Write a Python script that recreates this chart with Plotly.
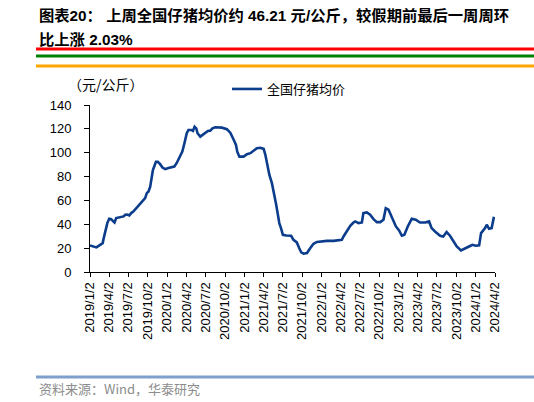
# 全国仔猪均价 weekly line chart (华泰研究 style)
import plotly.graph_objects as go

# ---- data (元/公斤) ----
dates = [
    "2019-01-02", "2019-01-19", "2019-02-01", "2019-02-12", "2019-02-24", "2019-03-03",
    "2019-03-08", "2019-03-15", "2019-03-25", "2019-04-03", "2019-04-12", "2019-04-22",
    "2019-04-28", "2019-05-06", "2019-05-17", "2019-05-30", "2019-06-10", "2019-06-18",
    "2019-06-27", "2019-07-07", "2019-07-16", "2019-07-27", "2019-08-07", "2019-08-20",
    "2019-09-01", "2019-09-12", "2019-09-20", "2019-09-28", "2019-10-06", "2019-10-14",
    "2019-10-19", "2019-10-27", "2019-11-02", "2019-11-10", "2019-11-19", "2019-11-30",
    "2019-12-11", "2019-12-24", "2020-01-08", "2020-01-24", "2020-02-05", "2020-02-16",
    "2020-02-29", "2020-03-14", "2020-03-24", "2020-04-04", "2020-04-12", "2020-04-25",
    "2020-05-03", "2020-05-11", "2020-05-19", "2020-05-25", "2020-06-07", "2020-06-18",
    "2020-07-01", "2020-07-13", "2020-07-24", "2020-08-04", "2020-08-17", "2020-09-01",
    "2020-09-17", "2020-10-11", "2020-10-27", "2020-11-11", "2020-11-23", "2020-11-29",
    "2020-12-09", "2020-12-29", "2021-01-14", "2021-01-30", "2021-02-14", "2021-03-02",
    "2021-03-18", "2021-04-03", "2021-04-11", "2021-04-19", "2021-04-30", "2021-05-12",
    "2021-05-23", "2021-05-31", "2021-06-08", "2021-06-16", "2021-06-24", "2021-07-03",
    "2021-07-19", "2021-08-11", "2021-08-22", "2021-09-07", "2021-09-18", "2021-09-28",
    "2021-10-09", "2021-10-25", "2021-11-10", "2021-11-25", "2021-12-11", "2021-12-31",
    "2022-01-27", "2022-02-28", "2022-03-23", "2022-04-08", "2022-04-16", "2022-05-02",
    "2022-05-18", "2022-06-02", "2022-06-10", "2022-06-26", "2022-07-12", "2022-07-19",
    "2022-08-04", "2022-08-20", "2022-09-05", "2022-09-21", "2022-10-07", "2022-10-22",
    "2022-11-02", "2022-11-15", "2022-12-01", "2022-12-20", "2023-01-04", "2023-01-17",
    "2023-01-29", "2023-02-14", "2023-03-05", "2023-03-24", "2023-04-13", "2023-05-07",
    "2023-05-26", "2023-06-07", "2023-06-23", "2023-07-17", "2023-08-01", "2023-08-17",
    "2023-09-02", "2023-09-18", "2023-10-04", "2023-10-24", "2023-11-12", "2023-12-01",
    "2023-12-17", "2024-01-02", "2024-01-18", "2024-01-27", "2024-02-15", "2024-02-23",
    "2024-03-05", "2024-03-17", "2024-03-28",
]

piglet_price = [
    22.3, 21.4, 20.6, 21.9, 23.7, 24.2,
    28.4, 34.0, 41.0, 44.6, 44.3, 42.4,
    41.5, 45.2, 45.7, 46.0, 46.6, 48.0,
    48.2, 47.4, 49.4, 50.8, 53.0, 56.3,
    58.8, 60.5, 61.9, 66.1, 67.5, 71.6,
    77.2, 85.6, 88.4, 92.3, 92.3, 90.4,
    87.6, 86.2, 87.1, 87.6, 88.4, 91.2,
    95.4, 100.9, 107.9, 116.3, 119.1, 119.1,
    118.3, 121.8, 120.4, 116.3, 113.5, 114.9,
    117.2, 118.3, 118.5, 120.4, 121.3, 121.3,
    121.0, 119.7, 116.8, 111.3, 106.5, 100.9,
    96.7, 96.7, 98.7, 99.6, 101.5, 103.8,
    104.1, 103.2, 98.2, 91.2, 81.4, 74.5,
    66.1, 57.7, 49.4, 41.0, 36.8, 31.2,
    30.6, 30.4, 27.0, 24.8, 20.1, 16.4,
    15.3, 15.9, 20.1, 23.7, 25.2, 25.6,
    26.1, 26.1, 26.4, 27.0, 29.8, 34.8,
    38.7, 41.5, 42.4, 41.0, 41.5, 49.4,
    49.9, 48.0, 44.3, 41.8, 41.8, 43.8,
    53.5, 52.2, 45.2, 38.2, 34.8, 30.4,
    31.2, 38.2, 44.6, 43.8, 41.5, 41.5,
    42.4, 36.8, 34.0, 30.4, 29.8, 33.5,
    30.4, 25.6, 21.4, 18.1, 20.1, 21.4,
    22.8, 22.0, 22.3, 32.6, 36.8, 39.6,
    36.2, 36.8, 46.21,
]

# quarterly tick dates shown on the x axis
tick_dates = [
    "2019-01-02", "2019-04-02", "2019-07-02", "2019-10-02",
    "2020-01-02", "2020-04-02", "2020-07-02", "2020-10-02",
    "2021-01-02", "2021-04-02", "2021-07-02", "2021-10-02",
    "2022-01-02", "2022-04-02", "2022-07-02", "2022-10-02",
    "2023-01-02", "2023-04-02", "2023-07-02", "2023-10-02",
    "2024-01-02", "2024-04-02",
]

title_line1 = "图表20： 上周全国仔猪均价约 46.21 元/公斤，较假期前最后一周周环"
title_line2 = "比上涨 2.03%"
unit_label = "（元/公斤）"
series_name = "全国仔猪均价"
source_note = "资料来源：Wind，华泰研究"

# ---- layout geometry (pixels in a 534x402 page) ----
W, H = 534, 402
L, R, T, B = 90, 39, 105, 130
pw, ph = W - L - R, H - T - B


def px(x):
    return (x - L) / pw


def py(y):
    return (H - B - y) / ph


FONT = "Liberation Sans, Arial, Noto Sans CJK SC, sans-serif"
CJK = "Noto Sans CJK SC, sans-serif"
LINE_BLUE = "#0b3d8c"
RULE_BLUE = "#7f9fcc"

fig = go.Figure()

fig.add_trace(go.Scatter(
    x=dates, y=piglet_price,
    mode="lines",
    name=series_name,
    line=dict(color=LINE_BLUE, width=2.6),
))

fig.update_layout(
    width=W, height=H,
    margin=dict(l=L, r=R, t=T, b=B),
    paper_bgcolor="white",
    plot_bgcolor="white",
    font=dict(family=FONT, size=13, color="black"),
    showlegend=True,
    legend=dict(
        x=px(227), y=py(89), xanchor="left", yanchor="middle",
        bgcolor="rgba(0,0,0,0)",
        font=dict(family=CJK, size=13, color="black"),
        itemwidth=30,
    ),
    xaxis=dict(
        type="date",
        range=["2019-01-02", "2024-04-02"],
        tickvals=tick_dates,
        tickformat="%Y/%-m/%-d",
        tickangle=-90,
        tickfont=dict(size=13),
        ticks="outside", ticklen=4, tickcolor="black",
        showline=True, linecolor="black", linewidth=1,
        showgrid=False, zeroline=False,
    ),
    yaxis=dict(
        range=[0, 140],
        dtick=20,
        tickfont=dict(size=13),
        ticks="outside", ticklen=5, tickcolor="black",
        ticklabelstandoff=10,
        showline=True, linecolor="black", linewidth=1,
        showgrid=False, zeroline=False,
    ),
)

# title (two lines), unit label and source note
fig.add_annotation(x=px(37), y=py(15), xref="paper", yref="paper",
                   text="<b>" + title_line1 + "</b>", showarrow=False,
                   xanchor="left", yanchor="middle",
                   font=dict(family=FONT, size=15.3, color="black"))
fig.add_annotation(x=px(37), y=py(39), xref="paper", yref="paper",
                   text="<b>" + title_line2 + "</b>", showarrow=False,
                   xanchor="left", yanchor="middle",
                   font=dict(family=FONT, size=15.3, color="black"))
fig.add_annotation(x=px(106), y=py(84), xref="paper", yref="paper",
                   text=unit_label, showarrow=False,
                   xanchor="center", yanchor="middle",
                   font=dict(family=CJK, size=14, color="black"))
fig.add_annotation(x=px(37), y=py(388), xref="paper", yref="paper",
                   text=source_note, showarrow=False,
                   xanchor="left", yanchor="middle",
                   font=dict(family=CJK, size=13, color="#8c8c8c"))

# rules under the title and above the source (several test heights for the top one)
for yy, c in ((49, "red"), (56, "green"), (66, "orange"), (377, RULE_BLUE)):
    fig.add_shape(type="line", xref="paper", yref="paper",
                  x0=px(36), x1=px(534), y0=py(yy), y1=py(yy),
                  line=dict(color=c, width=3))

# page body has a default 8px margin; drop it so the figure sits at 0,0
fig.write_html("out.html", config={"displayModeBar": False},
               post_script="document.body.style.margin='0';")
